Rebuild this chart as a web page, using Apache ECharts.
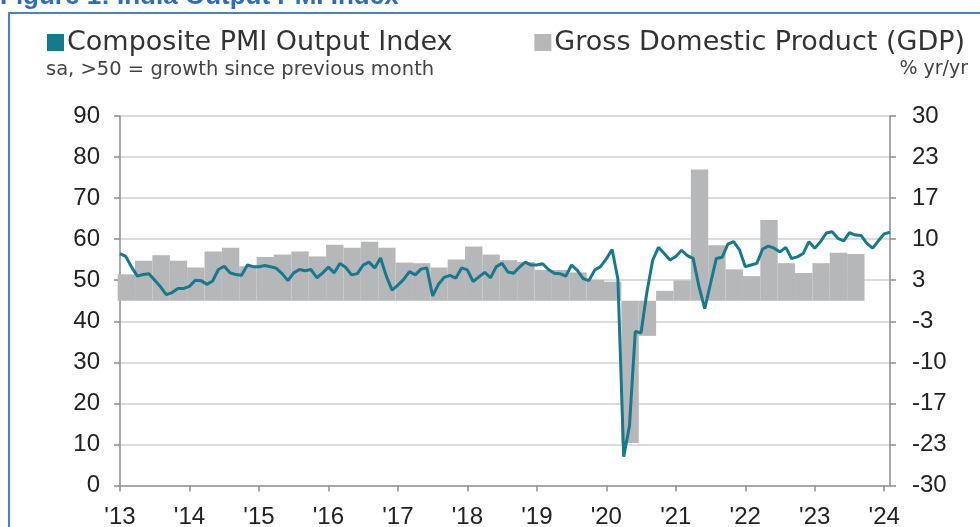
<!DOCTYPE html>
<html>
<head>
<meta charset="utf-8">
<title>India Output PMI Index</title>
<script src="https://cdn.jsdelivr.net/npm/echarts@6/dist/echarts.min.js"></script>
<style>
  html, body { margin: 0; padding: 0; background: #fff; }
  #chart { width: 980px; height: 527px; }
</style>
</head>
<body>
<div id="chart"></div>
<script>
// Composite PMI Output Index, monthly (sa)
const pmi2013 = [56.5, 55.8, 53.2, 51.0, 51.4, 51.6, 50.0, 48.4, 46.5, 47.0, 48.0, 48.0]
const pmi2014 = [48.5, 50.0, 49.9, 49.0, 49.8, 52.6, 53.4, 51.8, 51.4, 51.2, 53.7, 53.3]
const pmi2015 = [53.3, 53.6, 53.3, 52.9, 51.6, 49.9, 51.8, 52.6, 52.3, 52.6, 50.6, 51.8]
const pmi2016 = [53.2, 51.8, 54.1, 53.1, 51.3, 51.6, 53.7, 54.4, 53.0, 55.4, 51.0, 47.6]
const pmi2017 = [48.8, 50.2, 52.1, 51.3, 52.7, 53.0, 46.2, 49.0, 50.7, 51.2, 50.5, 53.0]
const pmi2018 = [52.5, 49.7, 50.8, 51.9, 50.6, 53.3, 54.1, 52.0, 51.7, 53.2, 54.4, 53.7]
const pmi2019 = [53.7, 54.0, 52.6, 51.7, 51.6, 51.0, 53.7, 52.4, 50.4, 49.9, 52.5, 53.3]
const pmi2020 = [55.2, 57.5, 50.3, 7.0, 14.5, 37.5, 37.2, 47.0, 54.8, 58.0, 56.5, 54.9]
const pmi2021 = [55.8, 57.3, 56.0, 55.3, 48.5, 43.1, 49.2, 55.3, 55.6, 58.8, 59.4, 57.4]
const pmi2022 = [53.3, 53.7, 54.1, 57.6, 58.3, 57.8, 56.9, 58.0, 55.3, 55.7, 56.5, 59.4]
const pmi2023 = [57.8, 59.4, 61.5, 61.8, 60.2, 59.6, 61.6, 61.0, 60.9, 59.0, 57.8, 59.6]
const pmi2024 = [61.3, 61.7]

// GDP % yr/yr, quarterly from Q1 2013 to Q3 2023
const gdpQuarterly = [
  4.3, 6.5, 7.4, 6.5,
  5.4, 8.0, 8.6, 5.6,
  7.1, 7.5, 8.0, 7.2,
  9.1, 8.6, 9.6, 8.6,
  6.2, 6.1, 5.4, 6.7,
  8.8, 7.5, 6.6, 6.3,
  5.0, 5.0, 4.6, 3.4,
  3.1, -23.1, -5.7, 1.6,
  3.3, 21.3, 9.0, 5.1,
  4.0, 13.1, 6.1, 4.5,
  6.1, 7.8, 7.6
]

const yearLabels = ["'13", "'14", "'15", "'16", "'17", "'18", "'19", "'20", "'21", "'22", "'23", "'24"]
const firstYear = 2013

const lineColor = '#17798d'
const barColor = '#b5b7b9'
const numFont = '"Liberation Sans", Arial, sans-serif'
const textFont = '"DejaVu Sans", sans-serif'

const pmi = [].concat(pmi2013, pmi2014, pmi2015, pmi2016, pmi2017, pmi2018,
  pmi2019, pmi2020, pmi2021, pmi2022, pmi2023, pmi2024)
const months = pmi.map((v, i) => (firstYear + Math.floor(i / 12)) + '-' + String(i % 12 + 1).padStart(2, '0'))
// each quarter's bar starts at the first month of that quarter
const gdpData = gdpQuarterly.map((v, q) => [q * 3, v])

const isJan = (i) => i % 12 === 0

const chart = echarts.init(document.getElementById('chart'))
chart.setOption({
  animation: false,
  textStyle: { fontFamily: numFont },
  grid: { left: 120, right: 90, top: 116, bottom: 41.5, outerBoundsMode: 'none' },
  legend: [
    {
      data: ['Composite PMI Output Index'],
      left: 42, top: 24,
      icon: 'rect', itemWidth: 17, itemHeight: 17, itemGap: 4,
      textStyle: { fontFamily: textFont, fontSize: 27, color: '#333', padding: [0, 0, 0, -2] }
    },
    {
      data: ['Gross Domestic Product (GDP)'],
      right: 10, top: 24,
      icon: 'rect', itemWidth: 17, itemHeight: 17,
      textStyle: { fontFamily: textFont, fontSize: 27, color: '#333', padding: [0, 0, 0, -2] }
    }
  ],
  graphic: [
    {
      type: 'rect',
      shape: { x: 9, y: 13, width: 1000, height: 600 },
      style: { fill: 'none', stroke: '#4f81bd', lineWidth: 2 },
      silent: true
    },
    {
      type: 'text', left: 0, top: -16,
      style: { text: 'Figure 1: India Output PMI Index', fill: '#2f6eb5', font: 'bold 26px "Liberation Sans", Arial, sans-serif' }
    },
    {
      type: 'text', left: 46, top: 60,
      style: { text: 'sa, >50 = growth since previous month', fill: '#444', font: '19.5px "DejaVu Sans", sans-serif' }
    },
    {
      type: 'text', right: 12, top: 60,
      style: { text: '% yr/yr', fill: '#444', font: '19px "DejaVu Sans", sans-serif' }
    }
  ],
  xAxis: {
    type: 'category',
    data: months,
    boundaryGap: false,
    axisLine: { onZero: false, lineStyle: { color: '#a6a6a6', width: 2 } },
    axisTick: { interval: isJan, length: 6, lineStyle: { color: '#8c8c8c', width: 1.5 } },
    axisLabel: {
      interval: isJan,
      margin: 20,
      fontSize: 24,
      color: '#222',
      formatter: (v, i) => yearLabels[Math.floor(i / 12)]
    },
    splitLine: { show: false }
  },
  yAxis: [
    {
      type: 'value',
      min: 0, max: 90, interval: 10,
      axisLine: { show: true, lineStyle: { color: '#8c8c8c', width: 1.5 } },
      axisTick: { show: true, length: 6, lineStyle: { color: '#8c8c8c', width: 1.5 } },
      axisLabel: { margin: 20, fontSize: 24, color: '#222' },
      splitLine: { lineStyle: { color: '#dcdcdc', width: 2 } }
    },
    {
      type: 'value',
      min: -30, max: 30, interval: 60 / 9,
      position: 'right',
      axisLine: { show: true, lineStyle: { color: '#8c8c8c', width: 1.5 } },
      axisTick: { show: true, length: 6, lineStyle: { color: '#8c8c8c', width: 1.5 } },
      axisLabel: { margin: 22, fontSize: 24, color: '#222', formatter: (v) => Math.round(v) },
      splitLine: { show: false }
    }
  ],
  series: [
    {
      name: 'Gross Domestic Product (GDP)',
      type: 'custom',
      xAxisIndex: 0,
      yAxisIndex: 1,
      itemStyle: { color: barColor },
      encode: { x: 0, y: 1 },
      data: gdpData,
      z: 1,
      renderItem: (params, api) => {
        const base = api.coord([api.value(0), 0])
        const top = api.coord([api.value(0), api.value(1)])
        const w = api.size([1, 0])[0]
        return {
          type: 'rect',
          shape: {
            x: base[0] - w * 0.4,
            y: Math.min(base[1], top[1]),
            width: w * 3,
            height: Math.abs(top[1] - base[1])
          },
          style: { fill: barColor }
        }
      }
    },
    {
      name: 'Composite PMI Output Index',
      type: 'line',
      data: pmi,
      showSymbol: false,
      itemStyle: { color: lineColor },
      lineStyle: { color: lineColor, width: 3 },
      z: 3
    }
  ]
})
</script>
</body>
</html>
